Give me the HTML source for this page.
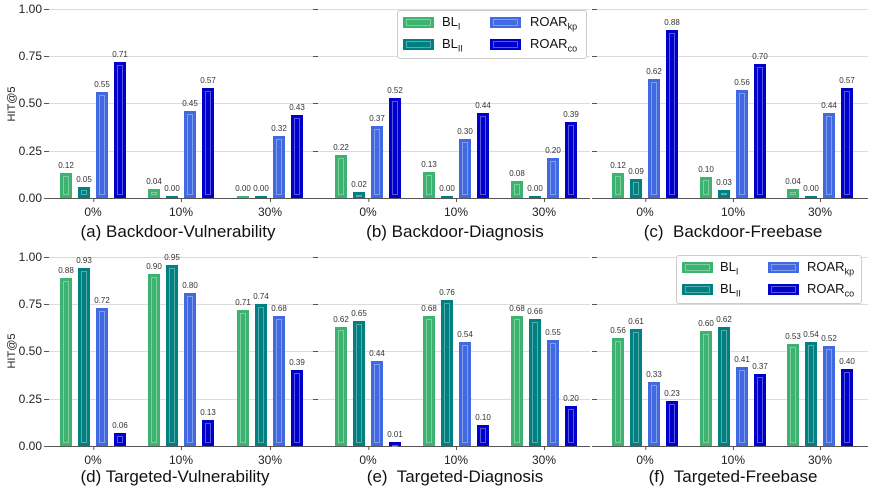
<!DOCTYPE html>
<html><head><meta charset="utf-8"><style>
body{margin:0;width:872px;height:493px;background:#fff;position:relative;overflow:hidden;font-family:"Liberation Sans","DejaVu Sans",sans-serif;}
.ax{position:absolute;height:189px;}
.gl{position:absolute;left:0;right:0;height:1px;background:#dcdcdc;}
.tk{position:absolute;left:-5px;width:5px;height:1px;background:#555;}
.base{position:absolute;left:0;right:0;bottom:-1px;height:1px;background:#555;}
.yl{position:absolute;right:100%;margin-right:7px;font-size:12px;color:#222;transform:translateY(-50%);}
.g{position:absolute;bottom:0;height:100%;width:0;}
.b{position:absolute;bottom:0;width:12px;box-sizing:border-box;}
.b::after{content:"";position:absolute;left:3px;right:3px;top:3px;bottom:3px;border:1px solid rgba(255,255,255,.35);}
.b span{position:absolute;bottom:100%;left:50%;transform:translateX(-50%);margin-bottom:3px;font-size:8px;color:#333;white-space:nowrap;}
.c1{background:#3cb371;left:-33px}.c2{background:#008080;left:-15px}.c3{background:#4169e1;left:3px}.c4{background:#0000cd;left:21px}
.xt{position:absolute;top:100%;margin-top:7px;font-size:12px;color:#222;transform:translateX(-50%);}
.xt::before{content:"";position:absolute;left:50%;top:-7px;height:4px;width:1px;background:#555;}
.cap{position:absolute;font-size:17px;color:#111;transform:translateX(-50%);white-space:nowrap;}
.ylab{position:absolute;font-size:11px;color:#222;transform:translate(-50%,-50%) rotate(-90deg);}
.leg{position:absolute;border:1px solid #ccc;border-radius:3px;background:#fff;width:188px;height:47px;}
.lp{position:absolute;width:31px;height:11px;}
.lp::after{content:"";position:absolute;left:3px;right:3px;top:2px;bottom:2px;border:1px solid rgba(255,255,255,.35);}
.lt{position:absolute;font-size:13px;color:#111;}
.lt sub{font-size:9px;}
</style></head><body>

<div class="ylab" style="left:12px;top:104px">HIT@5</div>
<div class="ylab" style="left:12px;top:351px">HIT@5</div>

<!-- panel a -->
<div class="ax" style="left:49px;top:9px;width:264px">
<div class="gl" style="top:0"></div><div class="gl" style="top:47px"></div><div class="gl" style="top:94px"></div><div class="gl" style="top:142px"></div>
<div class="tk" style="top:0"></div><div class="tk" style="top:47px"></div><div class="tk" style="top:94px"></div><div class="tk" style="top:142px"></div><div class="tk" style="top:189px"></div>
<div class="yl" style="top:0">1.00</div><div class="yl" style="top:47px">0.75</div><div class="yl" style="top:94px">0.50</div><div class="yl" style="top:142px">0.25</div><div class="yl" style="top:189px">0.00</div>
<div class="base"></div>
<div class="g" style="left:44px"><div class="b c1" style="height:13%"><span>0.12</span></div><div class="b c2" style="height:6%"><span>0.05</span></div><div class="b c3" style="height:56%"><span>0.55</span></div><div class="b c4" style="height:72%"><span>0.71</span></div><div class="xt">0%</div></div>
<div class="g" style="left:132px"><div class="b c1" style="height:5%"><span>0.04</span></div><div class="b c2" style="height:1%"><span>0.00</span></div><div class="b c3" style="height:46%"><span>0.45</span></div><div class="b c4" style="height:58%"><span>0.57</span></div><div class="xt">10%</div></div>
<div class="g" style="left:221px"><div class="b c1" style="height:1%"><span>0.00</span></div><div class="b c2" style="height:1%"><span>0.00</span></div><div class="b c3" style="height:33%"><span>0.32</span></div><div class="b c4" style="height:44%"><span>0.43</span></div><div class="xt">30%</div></div>
</div>
<div class="cap" style="left:178px;top:222px">(a) Backdoor-Vulnerability</div>

<!-- panel b -->
<div class="ax" style="left:318px;top:9px;width:272px">
<div class="gl" style="top:0"></div><div class="gl" style="top:47px"></div><div class="gl" style="top:94px"></div><div class="gl" style="top:142px"></div>
<div class="tk" style="top:0"></div><div class="tk" style="top:47px"></div><div class="tk" style="top:94px"></div><div class="tk" style="top:142px"></div><div class="tk" style="top:189px"></div>
<div class="base"></div>
<div class="g" style="left:50px"><div class="b c1" style="height:23%"><span>0.22</span></div><div class="b c2" style="height:3%"><span>0.02</span></div><div class="b c3" style="height:38%"><span>0.37</span></div><div class="b c4" style="height:53%"><span>0.52</span></div><div class="xt">0%</div></div>
<div class="g" style="left:138px"><div class="b c1" style="height:14%"><span>0.13</span></div><div class="b c2" style="height:1%"><span>0.00</span></div><div class="b c3" style="height:31%"><span>0.30</span></div><div class="b c4" style="height:45%"><span>0.44</span></div><div class="xt">10%</div></div>
<div class="g" style="left:226px"><div class="b c1" style="height:9%"><span>0.08</span></div><div class="b c2" style="height:1%"><span>0.00</span></div><div class="b c3" style="height:21%"><span>0.20</span></div><div class="b c4" style="height:40%"><span>0.39</span></div><div class="xt">30%</div></div>
</div>
<div class="cap" style="left:455px;top:222px">(b) Backdoor-Diagnosis</div>

<!-- panel c -->
<div class="ax" style="left:597px;top:9px;width:271px">
<div class="gl" style="top:0"></div><div class="gl" style="top:47px"></div><div class="gl" style="top:94px"></div><div class="gl" style="top:142px"></div>
<div class="tk" style="top:0"></div><div class="tk" style="top:47px"></div><div class="tk" style="top:94px"></div><div class="tk" style="top:142px"></div><div class="tk" style="top:189px"></div>
<div class="base"></div>
<div class="g" style="left:48px"><div class="b c1" style="height:13%"><span>0.12</span></div><div class="b c2" style="height:10%"><span>0.09</span></div><div class="b c3" style="height:63%"><span>0.62</span></div><div class="b c4" style="height:89%"><span>0.88</span></div><div class="xt">0%</div></div>
<div class="g" style="left:136px"><div class="b c1" style="height:11%"><span>0.10</span></div><div class="b c2" style="height:4%"><span>0.03</span></div><div class="b c3" style="height:57%"><span>0.56</span></div><div class="b c4" style="height:71%"><span>0.70</span></div><div class="xt">10%</div></div>
<div class="g" style="left:223px"><div class="b c1" style="height:5%"><span>0.04</span></div><div class="b c2" style="height:1%"><span>0.00</span></div><div class="b c3" style="height:45%"><span>0.44</span></div><div class="b c4" style="height:58%"><span>0.57</span></div><div class="xt">30%</div></div>
</div>
<div class="cap" style="left:733px;top:222px">(c)&nbsp; Backdoor-Freebase</div>

<!-- panel d -->
<div class="ax" style="left:49px;top:257px;width:264px">
<div class="gl" style="top:0"></div><div class="gl" style="top:47px"></div><div class="gl" style="top:94px"></div><div class="gl" style="top:142px"></div>
<div class="tk" style="top:0"></div><div class="tk" style="top:47px"></div><div class="tk" style="top:94px"></div><div class="tk" style="top:142px"></div><div class="tk" style="top:189px"></div>
<div class="yl" style="top:0">1.00</div><div class="yl" style="top:47px">0.75</div><div class="yl" style="top:94px">0.50</div><div class="yl" style="top:142px">0.25</div><div class="yl" style="top:189px">0.00</div>
<div class="base"></div>
<div class="g" style="left:44px"><div class="b c1" style="height:89%"><span>0.88</span></div><div class="b c2" style="height:94%"><span>0.93</span></div><div class="b c3" style="height:73%"><span>0.72</span></div><div class="b c4" style="height:7%"><span>0.06</span></div><div class="xt">0%</div></div>
<div class="g" style="left:132px"><div class="b c1" style="height:91%"><span>0.90</span></div><div class="b c2" style="height:96%"><span>0.95</span></div><div class="b c3" style="height:81%"><span>0.80</span></div><div class="b c4" style="height:14%"><span>0.13</span></div><div class="xt">10%</div></div>
<div class="g" style="left:221px"><div class="b c1" style="height:72%"><span>0.71</span></div><div class="b c2" style="height:75%"><span>0.74</span></div><div class="b c3" style="height:69%"><span>0.68</span></div><div class="b c4" style="height:40%"><span>0.39</span></div><div class="xt">30%</div></div>
</div>
<div class="cap" style="left:175px;top:467px">(d) Targeted-Vulnerability</div>

<!-- panel e -->
<div class="ax" style="left:318px;top:257px;width:272px">
<div class="gl" style="top:0"></div><div class="gl" style="top:47px"></div><div class="gl" style="top:94px"></div><div class="gl" style="top:142px"></div>
<div class="tk" style="top:0"></div><div class="tk" style="top:47px"></div><div class="tk" style="top:94px"></div><div class="tk" style="top:142px"></div><div class="tk" style="top:189px"></div>
<div class="base"></div>
<div class="g" style="left:50px"><div class="b c1" style="height:63%"><span>0.62</span></div><div class="b c2" style="height:66%"><span>0.65</span></div><div class="b c3" style="height:45%"><span>0.44</span></div><div class="b c4" style="height:2%"><span>0.01</span></div><div class="xt">0%</div></div>
<div class="g" style="left:138px"><div class="b c1" style="height:69%"><span>0.68</span></div><div class="b c2" style="height:77%"><span>0.76</span></div><div class="b c3" style="height:55%"><span>0.54</span></div><div class="b c4" style="height:11%"><span>0.10</span></div><div class="xt">10%</div></div>
<div class="g" style="left:226px"><div class="b c1" style="height:69%"><span>0.68</span></div><div class="b c2" style="height:67%"><span>0.66</span></div><div class="b c3" style="height:56%"><span>0.55</span></div><div class="b c4" style="height:21%"><span>0.20</span></div><div class="xt">30%</div></div>
</div>
<div class="cap" style="left:455px;top:467px">(e)&nbsp; Targeted-Diagnosis</div>

<!-- panel f -->
<div class="ax" style="left:597px;top:257px;width:271px">
<div class="gl" style="top:0"></div><div class="gl" style="top:47px"></div><div class="gl" style="top:94px"></div><div class="gl" style="top:142px"></div>
<div class="tk" style="top:0"></div><div class="tk" style="top:47px"></div><div class="tk" style="top:94px"></div><div class="tk" style="top:142px"></div><div class="tk" style="top:189px"></div>
<div class="base"></div>
<div class="g" style="left:48px"><div class="b c1" style="height:57%"><span>0.56</span></div><div class="b c2" style="height:62%"><span>0.61</span></div><div class="b c3" style="height:34%"><span>0.33</span></div><div class="b c4" style="height:24%"><span>0.23</span></div><div class="xt">0%</div></div>
<div class="g" style="left:136px"><div class="b c1" style="height:61%"><span>0.60</span></div><div class="b c2" style="height:63%"><span>0.62</span></div><div class="b c3" style="height:42%"><span>0.41</span></div><div class="b c4" style="height:38%"><span>0.37</span></div><div class="xt">10%</div></div>
<div class="g" style="left:223px"><div class="b c1" style="height:54%"><span>0.53</span></div><div class="b c2" style="height:55%"><span>0.54</span></div><div class="b c3" style="height:53%"><span>0.52</span></div><div class="b c4" style="height:41%"><span>0.40</span></div><div class="xt">30%</div></div>
</div>
<div class="cap" style="left:733px;top:467px">(f)&nbsp; Targeted-Freebase</div>

<!-- legends -->
<div class="leg" style="left:397px;top:10px">
<div class="lp" style="left:5px;top:6px;background:#3cb371"></div><div class="lt" style="left:44px;top:3px">BL<sub>I</sub></div>
<div class="lp" style="left:5px;top:28px;background:#008080"></div><div class="lt" style="left:44px;top:25px">BL<sub>II</sub></div>
<div class="lp" style="left:92px;top:6px;background:#4169e1"></div><div class="lt" style="left:132px;top:3px">ROAR<sub>kp</sub></div>
<div class="lp" style="left:92px;top:28px;background:#0000cd"></div><div class="lt" style="left:132px;top:25px">ROAR<sub>co</sub></div>
</div>
<div class="leg" style="left:676px;top:255px;width:184px">
<div class="lp" style="left:5px;top:6px;background:#3cb371"></div><div class="lt" style="left:43px;top:3px">BL<sub>I</sub></div>
<div class="lp" style="left:5px;top:28px;background:#008080"></div><div class="lt" style="left:43px;top:25px">BL<sub>II</sub></div>
<div class="lp" style="left:91px;top:6px;background:#4169e1"></div><div class="lt" style="left:130px;top:3px">ROAR<sub>kp</sub></div>
<div class="lp" style="left:91px;top:28px;background:#0000cd"></div><div class="lt" style="left:130px;top:25px">ROAR<sub>co</sub></div>
</div>
</body></html>
